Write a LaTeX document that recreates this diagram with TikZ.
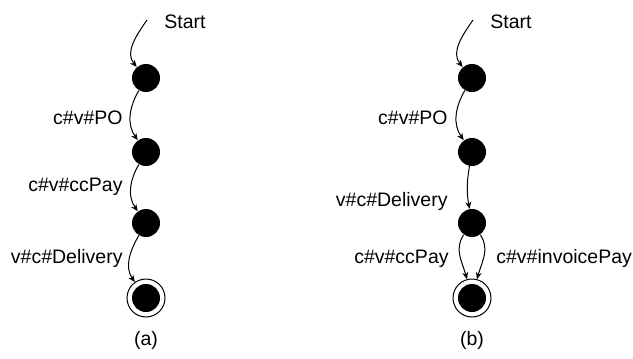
\documentclass[tikz,border=0pt]{standalone}
\usepackage{fontspec}
\setmainfont{Liberation Sans}
\usetikzlibrary{arrows.meta}
\begin{document}
\begin{tikzpicture}[x=0.5pt,y=-0.5pt,
  font=\fontsize{9.75}{11.7}\selectfont,
  st/.style={circle,fill=black,minimum size=14pt,inner sep=0pt},
  finalst/.style={circle,draw,line width=0.5pt,minimum size=19pt,inner sep=0pt,
    path picture={\fill (path picture bounding box.center) circle (7pt);}},
  lbl/.style={inner sep=0pt},
  tr/.style={line width=0.5pt,-{Stealth[length=3.5pt,width=3pt]}}]
\useasboundingbox (0,0) rectangle (633,359);
% (a)
\coordinate (Ls) at (147,20);
\node[lbl,anchor=west] (Lstart) at (164,22) {Start};
\node[st] (L1) at (146,78) {};
\node[st] (L2) at (146,152) {};
\node[st] (L3) at (146,223) {};
\node[finalst] (LF) at (146,298) {};
\draw[tr] (Ls) to[out=235,in=130] (L1);
\draw[tr] (L1) to[out=240,in=125] (L2);
\draw[tr] (L2) to[out=240,in=125] (L3);
\draw[tr] (L3) to[out=240,in=125] (LF);
\node[lbl,anchor=east] (La) at (123,118) {c\#v\#PO};
\node[lbl,anchor=east] (Lb) at (123,187) {c\#v\#ccPay};
\node[lbl,anchor=east] (Lc) at (123,258) {v\#c\#Delivery};
\node[lbl] (capa) at (146,340) {(a)};
% (b)
\coordinate (Rs) at (473,20);
\node[lbl,anchor=west] (Rstart) at (490,22) {Start};
\node[st] (R1) at (472,78) {};
\node[st] (R2) at (472,152) {};
\node[st] (R3) at (472,223) {};
\node[finalst] (RF) at (472,298) {};
\draw[tr] (Rs) to[out=235,in=130] (R1);
\draw[tr] (R1) to[out=240,in=125] (R2);
\draw[tr] (R2) to[out=260,in=100] (R3);
\draw[tr] (R3) to[out=235,in=105] (RF);
\draw[tr] (R3) to[out=305,in=75] (RF);
\node[lbl,anchor=east] (Ra) at (448,118) {c\#v\#PO};
\node[lbl,anchor=east] (Rb) at (448,201) {v\#c\#Delivery};
\node[lbl,anchor=east] (Rc) at (449,259) {c\#v\#ccPay};
\node[lbl,anchor=west] (Rd) at (496,258) {c\#v\#invoicePay};
\node[lbl] (capb) at (472,340) {(b)};
\end{tikzpicture}
\end{document}
